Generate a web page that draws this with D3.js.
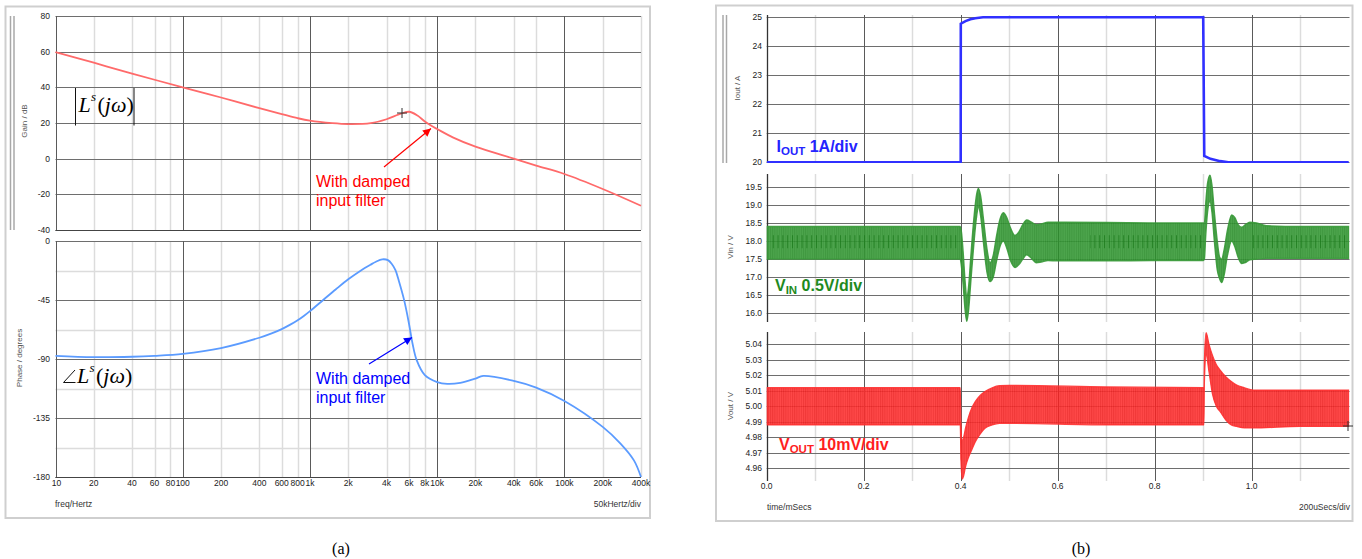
<!DOCTYPE html>
<html>
<head>
<meta charset="utf-8">
<script src="https://cdn.jsdelivr.net/npm/d3@7"></script>
<style>
  html, body { margin: 0; padding: 0; background: #fff; }
  svg { display: block; font-family: "Liberation Sans", Arial, sans-serif; }
</style>
</head>
<body>
<svg id="chart" width="1362" height="559"></svg>
<script>
/* (a) loop gain Bode plot, (b) load step transient */

// ---- (a) Bode data ----
var gainFreq = [10, 20, 40, 100, 200, 400, 600, 800, 1000, 1500, 2000, 3000, 4000, 5000, 6000, 7000, 8000, 9000, 10000, 13400, 20000, 40000, 60000, 100000, 200000, 400000];
var gainDb = [59.8, 53.8, 47.7, 40, 34.3, 28.3, 25.0, 22.7, 21.3, 19.9, 19.4, 19.9, 22.1, 24.8, 26.3, 24.2, 20.8, 18.4, 16.6, 11.8, 6.7, 0, -3.9, -8.6, -17.0, -26.4];

var phaseFreq = [10, 20, 40, 60, 100, 200, 400, 500, 600, 700, 800, 900, 1000, 1270, 1600, 2000, 2500, 3000, 3300, 3700, 4100, 4400, 4700, 5000, 5500, 6000, 6400, 6900, 8000, 10000, 12000, 15200, 20000, 23000, 40000, 60000, 100000, 200000, 276000, 352000, 400000];
var phaseDeg = [-87.6, -88.6, -88.3, -87.6, -86.1, -81.7, -73.8, -70.5, -67.2, -63.8, -60.5, -57.0, -53.5, -45.0, -36.8, -29.2, -22.6, -18.0, -15.8, -14.0, -14.6, -17.5, -22.2, -30.5, -45.1, -62.9, -78.2, -90.9, -102.3, -107.6, -109.0, -108.2, -104.9, -102.9, -106.7, -111.8, -122, -141.8, -154.5, -167.3, -180];

var freqTicks = [10, 20, 40, 60, 80, 100, 200, 400, 600, 800, 1e3, 2e3, 4e3, 6e3, 8e3, 1e4, 2e4, 4e4, 6e4, 1e5, 2e5, 4e5];
var freqTickLabels = ['10', '20', '40', '60', '80', '100', '200', '400', '600', '800', '1k', '2k', '4k', '6k', '8k', '10k', '20k', '40k', '60k', '100k', '200k', '400k'];
var freqMajor = [10, 100, 1e3, 1e4, 1e5];
var gainTicks = [80, 60, 40, 20, 0, -20, -40];
var phaseTicks = [0, -45, -90, -135, -180];
var phaseMinor = [-22.5, -67.5, -112.5, -157.5];

// ---- (b) transient data (time in ms) ----
var ioutTime = [0, 0.4, 0.4002, 0.41, 0.42, 0.43, 0.446, 0.9, 0.9022, 0.915, 0.935, 0.952, 1.2];
var ioutAmp = [20, 20, 24.78, 24.87, 24.93, 24.97, 25, 25, 20.22, 20.12, 20.04, 20, 20];

var vinTime = [0, 0.1, 0.2, 0.3, 0.399, 0.4015, 0.405, 0.409, 0.4125, 0.416, 0.421, 0.427, 0.433, 0.4365, 0.441, 0.447, 0.454, 0.4605, 0.467, 0.474, 0.481, 0.488, 0.495, 0.503, 0.512, 0.520, 0.528, 0.536, 0.546, 0.556, 0.566, 0.58, 0.6, 0.7, 0.8, 0.9, 0.9025, 0.905, 0.909, 0.914, 0.918, 0.923, 0.929, 0.934, 0.938, 0.943, 0.950, 0.9587, 0.965, 0.972, 0.9794, 0.987, 0.996, 1.010, 1.03, 1.1, 1.2];
var vinUpper = [18.40, 18.40, 18.40, 18.40, 18.40, 18.25, 17.70, 16.90, 16.45, 16.70, 17.60, 18.60, 19.30, 19.45, 19.25, 18.60, 17.80, 17.40, 17.60, 18.15, 18.60, 18.78, 18.65, 18.35, 18.15, 18.25, 18.45, 18.58, 18.52, 18.45, 18.47, 18.52, 18.52, 18.51, 18.50, 18.50, 18.50, 19.00, 19.60, 19.82, 19.55, 18.80, 18.00, 17.55, 17.50, 17.75, 18.30, 18.72, 18.65, 18.45, 18.38, 18.45, 18.52, 18.50, 18.42, 18.40, 18.40];
var vinLower = [17.50, 17.50, 17.50, 17.50, 17.50, 17.30, 16.80, 16.10, 15.78, 16.05, 16.90, 17.90, 18.70, 18.95, 18.70, 17.95, 17.15, 16.88, 17.00, 17.45, 17.85, 18.00, 17.80, 17.45, 17.27, 17.35, 17.50, 17.62, 17.52, 17.40, 17.42, 17.46, 17.45, 17.45, 17.46, 17.46, 17.50, 18.10, 18.80, 19.10, 18.80, 18.00, 17.20, 16.95, 16.85, 17.05, 17.60, 18.00, 17.85, 17.55, 17.38, 17.40, 17.48, 17.50, 17.52, 17.52, 17.52];
var vinDashSpans = [[0.005, 0.398], [0.667, 0.9], [1.0, 1.195]];

var voutTime = [0, 0.399, 0.4005, 0.403, 0.406, 0.410, 0.416, 0.423, 0.430, 0.440, 0.450, 0.465, 0.48, 0.5, 0.7, 0.9015, 0.9025, 0.906, 0.912, 0.919, 0.927, 0.935, 0.947, 0.958, 0.969, 0.985, 1.003, 1.1, 1.2];
var voutUpper = [5.012, 5.012, 4.990, 4.978, 4.980, 4.986, 4.993, 4.999, 5.003, 5.007, 5.0095, 5.012, 5.0133, 5.0135, 5.0125, 5.012, 5.030, 5.0475, 5.040, 5.033, 5.027, 5.0234, 5.019, 5.016, 5.0137, 5.012, 5.0105, 5.0105, 5.0105];
var voutLower = [4.988, 4.988, 4.965, 4.953, 4.955, 4.961, 4.967, 4.972, 4.977, 4.982, 4.9858, 4.988, 4.989, 4.989, 4.988, 4.988, 5.015, 5.033, 5.022, 5.008, 5.000, 4.9965, 4.991, 4.988, 4.987, 4.986, 4.986, 4.987, 4.987];

var timeTicks = [0, 0.2, 0.4, 0.6, 0.8, 1.0];
var timeTickLabels = ['0.0', '0.2', '0.4', '0.6', '0.8', '1.0'];
var timeMinor = [0.1, 0.3, 0.5, 0.7, 0.9, 1.1];
var ioutTicks = [20, 21, 22, 23, 24, 25];
var vinTicks = [16.0, 16.5, 17.0, 17.5, 18.0, 18.5, 19.0, 19.5];
var voutTicks = [4.96, 4.97, 4.98, 4.99, 5.00, 5.01, 5.02, 5.03, 5.04];

var MAJOR = '#5a5a5a', HGRID = '#6e6e6e', MINOR = '#dcdcdc', TICKTXT = '#222';

var svg = d3.select('#chart');
svg.append('rect').attr('width', 1362).attr('height', 559).attr('fill', '#fff');

var defs = svg.append('defs');

function arrowMarker(id, color) {
  defs.append('marker')
    .attr('id', id)
    .attr('viewBox', '0 0 10 10')
    .attr('refX', 10).attr('refY', 5)
    .attr('markerWidth', 10).attr('markerHeight', 8)
    .attr('markerUnits', 'userSpaceOnUse')
    .attr('orient', 'auto')
    .append('path').attr('d', 'M0,0 L10,5 L0,10 z').attr('fill', color);
}
arrowMarker('arrRed', '#ff0000');
arrowMarker('arrBlue', '#0000ff');

function stripePattern(id, base, stripe, w) {
  var p = defs.append('pattern')
    .attr('id', id).attr('patternUnits', 'userSpaceOnUse')
    .attr('width', w).attr('height', 10);
  p.append('rect').attr('width', w).attr('height', 10).attr('fill', base);
  p.append('rect').attr('width', 1).attr('height', 10).attr('fill', stripe);
}
stripePattern('greenStripe', '#3a9c3a', '#2b8c2b', 2.2);
stripePattern('redStripe', '#ff3535', '#ee2222', 2.2);
stripePattern('vinDash', 'none', '#1b7a1b', 4.8);

function clip(id, x0, y0, x1, y1) {
  defs.append('clipPath').attr('id', id).append('rect')
    .attr('x', x0).attr('y', y0).attr('width', x1 - x0).attr('height', y1 - y0);
}

function hLines(g, vals, y, x0, x1, color, w) {
  g.selectAll(null).data(vals).enter().append('line')
    .attr('x1', x0).attr('x2', x1)
    .attr('y1', function(d) { return Math.round(y(d)) + 0.5; })
    .attr('y2', function(d) { return Math.round(y(d)) + 0.5; })
    .attr('stroke', color).attr('stroke-width', w);
}

function vLines(g, vals, x, y0, y1, color, w) {
  g.selectAll(null).data(vals).enter().append('line')
    .attr('y1', y0).attr('y2', y1)
    .attr('x1', function(d) { return Math.round(x(d)) + 0.5; })
    .attr('x2', function(d) { return Math.round(x(d)) + 0.5; })
    .attr('stroke', color).attr('stroke-width', w);
}

function yLabels(g, vals, y, xRight, fmt) {
  g.selectAll(null).data(vals).enter().append('text')
    .attr('x', xRight)
    .attr('y', function(d) { return y(d); })
    .attr('dy', '0.35em')
    .attr('text-anchor', 'end')
    .attr('font-size', '8.5px')
    .attr('fill', TICKTXT)
    .text(fmt);
}

function axisTitle(g, x, y, txt) {
  g.append('text')
    .attr('transform', 'translate(' + x + ',' + y + ') rotate(-90)')
    .attr('text-anchor', 'middle')
    .attr('font-size', '8px')
    .attr('fill', '#555')
    .text(txt);
}

function cross(g, x, y) {
  g.append('path')
    .attr('d', 'M' + (x - 5) + ',' + y + 'H' + (x + 5) + 'M' + x + ',' + (y - 5) + 'V' + (y + 5))
    .attr('stroke', '#333').attr('stroke-width', 1);
}

function zip(a, b) { return a.map(function(v, i) { return [v, b[i]]; }); }

/* =================== (a) Bode plot =================== */
var left = svg.append('g');
left.append('rect').attr('x', 5.5).attr('y', 6.5).attr('width', 644.5).attr('height', 511.5)
  .attr('fill', 'none').attr('stroke', '#cfcfcf').attr('stroke-width', 2);

var xF = d3.scaleLog().domain([10, 4e5]).range([55.5, 641]);
var yGain = d3.scaleLinear().domain([-40, 80]).range([230, 16]);
var yPhase = d3.scaleLinear().domain([-180, 0]).range([477, 241]);
var freqMinor = freqTicks.filter(function(f) { return freqMajor.indexOf(f) < 0; });

// gain grid
vLines(left, freqMinor, xF, 16, 230, MINOR, 1.5);
hLines(left, gainTicks, yGain, 55.5, 641, HGRID, 1);
vLines(left, freqMajor, xF, 16, 230, MAJOR, 1);
left.append('line').attr('x1', 55.5).attr('x2', 641).attr('y1', 230.5).attr('y2', 230.5).attr('stroke', '#444');

// phase grid
vLines(left, freqMinor, xF, 241, 477, MINOR, 1.5);
hLines(left, phaseMinor, yPhase, 55.5, 641, MINOR, 1.5);
hLines(left, phaseTicks, yPhase, 55.5, 641, HGRID, 1);
vLines(left, freqMajor, xF, 241, 477, MAJOR, 1);
left.append('line').attr('x1', 55.5).attr('x2', 641).attr('y1', 477.5).attr('y2', 477.5).attr('stroke', '#444');

// double bar beside gain plot
[10.5, 14].forEach(function(x) {
  left.append('line').attr('x1', x).attr('x2', x).attr('y1', 16).attr('y2', 230)
    .attr('stroke', '#a8a8a8').attr('stroke-width', 1.5);
});

yLabels(left, gainTicks, yGain, 50, function(d) { return d; });
yLabels(left, phaseTicks, yPhase, 50, function(d) { return d; });
axisTitle(left, 27, 121, 'Gain / dB');
axisTitle(left, 22, 358, 'Phase / degrees');

left.selectAll(null).data(freqTicks).enter().append('text')
  .attr('x', function(d) { return d === 10 ? xF(d) + 1 : xF(d); })
  .attr('y', 486)
  .attr('text-anchor', 'middle')
  .attr('font-size', '8.5px')
  .attr('fill', TICKTXT)
  .text(function(d, i) { return freqTickLabels[i]; });

left.append('text').attr('x', 55).attr('y', 507).attr('font-size', '8.5px').attr('fill', '#333').text('freq/Hertz');
left.append('text').attr('x', 641).attr('y', 507).attr('text-anchor', 'end').attr('font-size', '8.5px').attr('fill', '#333').text('50kHertz/div');

// curves
var gainLine = d3.line()
  .x(function(d) { return xF(d[0]); })
  .y(function(d) { return yGain(d[1]); })
  .curve(d3.curveCatmullRom.alpha(0.5));
left.append('path').datum(zip(gainFreq, gainDb))
  .attr('d', gainLine).attr('fill', 'none')
  .attr('stroke', '#ff6a6a').attr('stroke-width', 1.8);

var phaseLine = d3.line()
  .x(function(d) { return xF(d[0]); })
  .y(function(d) { return yPhase(d[1]); })
  .curve(d3.curveCatmullRom.alpha(0.5));
left.append('path').datum(zip(phaseFreq, phaseDeg))
  .attr('d', phaseLine).attr('fill', 'none')
  .attr('stroke', '#5b9bff').attr('stroke-width', 1.8);

cross(left, 402, 113);

// math labels
var serif = '"Liberation Serif", "Times New Roman", serif';
function mathLabel(g, x, y) {
  g.append('text').attr('x', x).attr('y', y).attr('font-family', serif).attr('font-size', '22px')
    .attr('font-style', 'italic').text('L');
  g.append('text').attr('x', x + 12.5).attr('y', y - 11).attr('font-family', serif).attr('font-size', '13px')
    .attr('font-style', 'italic').text('s');
  var t = g.append('text').attr('x', x + 19).attr('y', y).attr('font-family', serif).attr('font-size', '22px');
  t.append('tspan').text('(');
  t.append('tspan').attr('font-style', 'italic').text('j');
  t.append('tspan').attr('font-style', 'italic').text('\u03c9');
  t.append('tspan').text(')');
}
[75.5, 134].forEach(function(x) {
  left.append('line').attr('x1', x).attr('x2', x).attr('y1', 88).attr('y2', 125.5)
    .attr('stroke', '#111').attr('stroke-width', 1);
});
mathLabel(left, 78.5, 112);
left.append('path').attr('d', 'M75,370 L63.5,382.5 L75.5,382.5').attr('fill', 'none')
  .attr('stroke', '#111').attr('stroke-width', 1);
mathLabel(left, 77, 383);

// annotations
function note(g, x, y, color, arrow, from, to) {
  var t = g.append('text').attr('x', x).attr('y', y).attr('font-size', '16px').attr('fill', color);
  t.append('tspan').attr('x', x).text('With damped');
  t.append('tspan').attr('x', x).attr('dy', 19).text('input filter');
  g.append('line').attr('x1', from[0]).attr('y1', from[1]).attr('x2', to[0]).attr('y2', to[1])
    .attr('stroke', color).attr('stroke-width', 1.2).attr('marker-end', 'url(#' + arrow + ')');
}
note(left, 316, 187, '#ff0000', 'arrRed', [384, 167], [431, 128.5]);
note(left, 316, 383.5, '#0000ff', 'arrBlue', [369, 364], [412, 337.5]);

left.append('text').attr('x', 341).attr('y', 554).attr('text-anchor', 'middle')
  .attr('font-family', serif).attr('font-size', '16px').text('(a)');

/* =================== (b) transient =================== */
var right = svg.append('g');
right.append('rect').attr('x', 716).attr('y', 5.5).attr('width', 636.5).attr('height', 515.5)
  .attr('fill', 'none').attr('stroke', '#cfcfcf').attr('stroke-width', 2);

var X0 = 766.7, X1 = 1349.5;
var xT = d3.scaleLinear().domain([0, 1.2]).range([766.7, 1348.7]);
var yI = d3.scaleLinear().domain([20, 25]).range([162.3, 17.3]);
var yVin = d3.scaleLinear().domain([16, 19.5]).range([313.4, 186.7]);
var yVout = d3.scaleLinear().domain([4.96, 5.04]).range([468.3, 344.3]);

var panels = [
  { y: yI, top: 15, bottom: 163, ticks: ioutTicks, fmt: d3.format('d'), title: 'Iout / A', tx: 740, ty: 88 },
  { y: yVin, top: 174, bottom: 322, ticks: vinTicks, fmt: d3.format('.1f'), title: 'Vin / V', tx: 733, ty: 247 },
  { y: yVout, top: 332, bottom: 481, ticks: voutTicks, fmt: d3.format('.2f'), title: 'Vout / V', tx: 733, ty: 406 }
];

panels.forEach(function(p, i) {
  vLines(right, timeMinor, xT, p.top, p.bottom, MINOR, 1.5);
  hLines(right, p.ticks, p.y, X0, X1, HGRID, 1.1);
  vLines(right, timeTicks, xT, p.top, p.bottom, MAJOR, 1);
  right.append('line').attr('x1', 767.5).attr('x2', 767.5).attr('y1', p.top).attr('y2', p.bottom)
    .attr('stroke', '#333').attr('stroke-width', 1.3);
  yLabels(right, p.ticks, p.y, 762, p.fmt);
  axisTitle(right, p.tx, p.ty, p.title);
  clip('clipR' + i, X0, p.top, X1, p.bottom);
});

[723, 726.5].forEach(function(x) {
  right.append('line').attr('x1', x).attr('x2', x).attr('y1', 15).attr('y2', 163)
    .attr('stroke', '#a8a8a8').attr('stroke-width', 1.5);
});

// Iout
var ioutLine = d3.line()
  .x(function(d) { return xT(d[0]); })
  .y(function(d) { return yI(d[1]); });
right.append('path').datum(zip(ioutTime, ioutAmp))
  .attr('clip-path', 'url(#clipR0)')
  .attr('d', ioutLine).attr('fill', 'none')
  .attr('stroke', '#3030ff').attr('stroke-width', 2.6);

// Vin band
var vinData = vinTime.map(function(t, i) { return [t, vinUpper[i], vinLower[i]]; });
var vinArea = d3.area()
  .x(function(d) { return xT(d[0]); })
  .y0(function(d) { return yVin(d[2]); })
  .y1(function(d) { return yVin(d[1]); })
  .curve(d3.curveMonotoneX);
right.append('path').datum(vinData)
  .attr('clip-path', 'url(#clipR1)')
  .attr('d', vinArea)
  .attr('fill', 'url(#greenStripe)').attr('fill-opacity', 0.9)
  .attr('stroke', '#379937').attr('stroke-width', 1.4).attr('stroke-opacity', 0.9);
right.selectAll(null).data(vinDashSpans).enter().append('rect')
  .attr('x', function(d) { return xT(d[0]); })
  .attr('width', function(d) { return xT(d[1]) - xT(d[0]); })
  .attr('y', yVin(18.16))
  .attr('height', yVin(17.8) - yVin(18.16))
  .attr('fill', 'url(#vinDash)').attr('opacity', 0.75);

// Vout band
var voutData = voutTime.map(function(t, i) { return [t, voutUpper[i], voutLower[i]]; });
var voutArea = d3.area()
  .x(function(d) { return xT(d[0]); })
  .y0(function(d) { return yVout(d[2]); })
  .y1(function(d) { return yVout(d[1]); })
  .curve(d3.curveMonotoneX);
right.append('path').datum(voutData)
  .attr('clip-path', 'url(#clipR2)')
  .attr('d', voutArea)
  .attr('fill', 'url(#redStripe)').attr('fill-opacity', 0.9)
  .attr('stroke', '#ff3030').attr('stroke-width', 1.2).attr('stroke-opacity', 0.9);

cross(right, 1348, 426);

// channel labels
function chanLabel(x, y, color, main, sub, rest) {
  var t = right.append('text').attr('x', x).attr('y', y)
    .attr('font-weight', 'bold').attr('font-size', '16px').attr('fill', color);
  t.append('tspan').text(main);
  t.append('tspan').attr('font-size', '11.5px').attr('dy', 3).text(sub);
  t.append('tspan').attr('dy', -3).text(' ' + rest);
}
chanLabel(776.5, 152, '#2424ff', 'I', 'OUT', '1A/div');
chanLabel(775, 291, '#1e8a1e', 'V', 'IN', '0.5V/div');
chanLabel(779, 450, '#ff1e1e', 'V', 'OUT', '10mV/div');

right.selectAll(null).data(timeTicks).enter().append('text')
  .attr('x', function(d) { return xT(d); })
  .attr('y', 489)
  .attr('text-anchor', 'middle')
  .attr('font-size', '8.5px')
  .attr('fill', TICKTXT)
  .text(function(d, i) { return timeTickLabels[i]; });

right.append('text').attr('x', 767).attr('y', 510).attr('font-size', '8.5px').attr('fill', '#333').text('time/mSecs');
right.append('text').attr('x', 1350).attr('y', 510).attr('text-anchor', 'end').attr('font-size', '8.5px').attr('fill', '#333').text('200uSecs/div');

right.append('text').attr('x', 1081).attr('y', 554).attr('text-anchor', 'middle')
  .attr('font-family', serif).attr('font-size', '16px').text('(b)');
</script>
</body>
</html>
